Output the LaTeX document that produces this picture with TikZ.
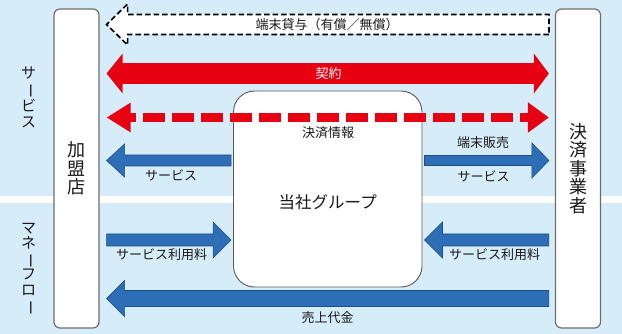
\documentclass[tikz,border=0pt]{standalone}
\usepackage{fontspec}
\usepackage{graphicx}
\setmainfont{Noto Sans CJK JP}
\usetikzlibrary{arrows.meta, positioning, calc}
\definecolor{mybg}{RGB}{214,236,249}
\definecolor{myred}{RGB}{230,0,18}
\definecolor{myblue}{RGB}{46,110,182}
\definecolor{myblueedge}{RGB}{28,78,140}
\definecolor{myframe}{RGB}{110,110,110}
\definecolor{mytext}{RGB}{25,25,25}
% long vowel mark set upright for vertical text
\newcommand{\vbar}{\rotatebox[origin=c]{-90}{ー}}
% block arrow: [style]{from}{tip}{shaft half}{head half}{head length}
\newcommand{\blockarrow}[6][]{%
  \coordinate (ab) at ($(#3)!#6!(#2)$);
  \draw[#1] ($(#2)+(0,#4)$) -- ($(ab)+(0,#4)$) -- ($(ab)+(0,#5)$) -- (#3)
    -- ($(ab)+(0,-#5)$) -- ($(ab)+(0,-#4)$) -- ($(#2)+(0,-#4)$) -- cycle;}
\tikzset{
  pillar/.style={rectangle, draw=myframe, fill=white, line width=1.2pt,
    rounded corners=6pt, minimum width=45pt, minimum height=319pt,
    align=center, inner sep=0pt, text=mytext, font=\fontsize{18}{18.5}\selectfont},
  grpbox/.style={rectangle, draw=myframe!80!black, fill=white, line width=0.9pt,
    rounded corners=21pt, minimum width=188.5pt, minimum height=196pt},
  bluearrow/.style={fill=myblue, draw=myblueedge, line width=0.6pt},
  whitearrow/.style={fill=white, draw=black, line width=1.7pt, dash pattern=on 5.5pt off 3pt},
  redarrow/.style={draw=myred, line width=21pt,
    {Triangle[length=16pt,width=39pt]}-{Triangle[length=15pt,width=39pt]}},
  reddash/.style={draw=myred, line width=9pt, dash pattern=on 22pt off 7pt, dash phase=15pt,
    {Triangle[length=24pt,width=28pt]}-{Triangle[length=21pt,width=29pt]}},
  lbl/.style={inner sep=0pt, text=mytext, font=\fontsize{13}{13}\selectfont},
  sidelbl/.style={inner sep=0pt, align=center, text=mytext, font=\fontsize{15}{15.6}\selectfont}
}

\begin{document}
\begin{tikzpicture}[x=1pt, y=-1pt]
  \useasboundingbox (0,0) rectangle (622,334);
  % Background bands
  \fill[mybg] (0,0) rectangle (622,334);
  \fill[white] (0,196) rectangle (622,203);

  % Side labels
  \node[sidelbl] (svc) at (28.5,97.5) {サ\\\vbar\\ビ\\ス};
  \node[sidelbl] (money) at (28.5,269) {マ\\ネ\\\vbar\\フ\\ロ\\\vbar};

  % Pillars and group box
  \node[pillar] (fran) at (76.5,168.5) {加\\盟\\店};
  \node[pillar] (payco) at (578,168.5) {決\\済\\事\\業\\者};
  \node[grpbox] (grp) at (327.75,189) {};
  \node[lbl, font=\fontsize{16.5}{16.5}\selectfont] (grptxt) at ($(grp.center)+(0,13.5)$) {当社グループ};

  \coordinate[right=7pt of fran.east] (fL);
  \coordinate[left=6pt of payco.west] (pR);
  \coordinate[left=2pt of grp.west] (gL);
  \coordinate[right=2pt of grp.east] (gR);

  % Terminal loan
  \blockarrow[whitearrow]{pR |- 0,24.5}{fL |- 0,24.5}{10}{20.5}{21pt}
  \node[lbl] (lend) at (327,25) {端末貸与（有償／無償）};

  % Contract
  \draw[redarrow] (fL |- 0,73.5) -- (pR |- 0,73.5);
  \node[lbl, text=white] (deal) at (328.5,73.5) {契約};

  % Payment data
  \draw[reddash] (fL |- 0,117.5) -- (pR |- 0,117.5);
  \node[lbl] (info) at (328,132.5) {決済情報};

  % Services
  \blockarrow[bluearrow]{gL |- 0,160.5}{fL |- 0,160.5}{5.5}{16.5}{18pt}
  \blockarrow[bluearrow]{gR |- 0,160.5}{pR |- 0,160.5}{5}{17.5}{17pt}
  \node[lbl] (svcL) at (171,175) {サービス};
  \node[lbl] (sell) at (483,143) {端末販売};
  \node[lbl] (svcR) at (483.5,176) {サービス};

  % Fees
  \blockarrow[bluearrow]{fL |- 0,240}{gL |- 0,240}{6}{18}{18pt}
  \blockarrow[bluearrow]{pR |- 0,240}{gR |- 0,240}{6}{18}{18pt}
  \node[lbl] (feeL) at (161.5,255) {サービス利用料};
  \node[lbl] (feeR) at (494.5,255) {サービス利用料};

  % Sales proceeds
  \blockarrow[bluearrow]{pR |- 0,298.5}{fL |- 0,298.5}{8}{18}{18pt}
  \node[lbl] (sales) at (327.5,318) {売上代金};
\end{tikzpicture}
\end{document}
